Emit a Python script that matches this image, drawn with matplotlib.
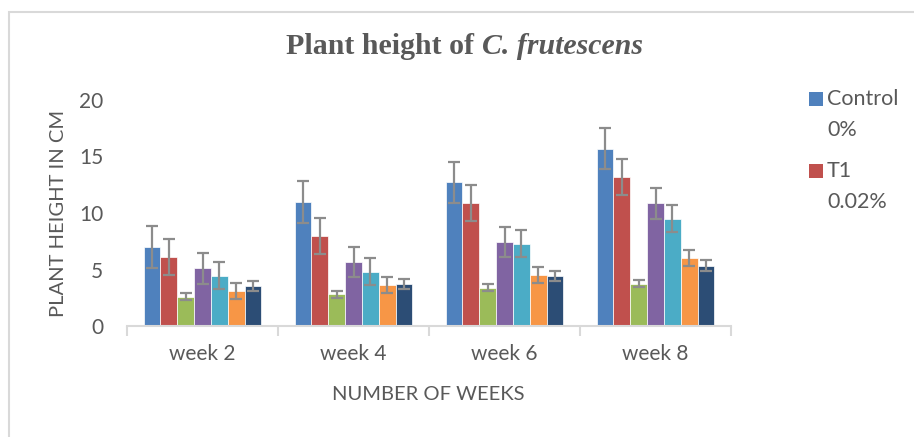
import matplotlib
matplotlib.use("Agg")
import matplotlib.pyplot as plt
from matplotlib.patches import Rectangle
import numpy as np

weeks = ["week 2", "week 4", "week 6", "week 8"]
series = ["Control\n0%", "T1\n0.02%", "T2", "T3", "T4", "T5", "T6"]
colors = ["#4F81BD", "#C0504D", "#9BBB59", "#8064A2", "#4BACC6", "#F79646", "#2C4D75"]

heights = [
    [7.0, 11.0, 12.7, 15.7],   # Control 0%
    [6.1, 8.0, 10.9, 13.2],    # T1 0.02%
    [2.6, 2.8, 3.4, 3.75],
    [5.1, 5.65, 7.45, 10.85],
    [4.45, 4.8, 7.3, 9.5],
    [3.1, 3.6, 4.5, 6.0],
    [3.55, 3.7, 4.4, 5.35],
]
errors = [1.85, 1.6, 0.3, 1.35, 1.2, 0.7, 0.45]

gray = "#595959"
W, H = 914, 437
fig = plt.figure(figsize=(W / 100, H / 100), dpi=100)
fig.patches.append(Rectangle((9 / W, -0.1), 1.2, 1 - 12 / H + 0.1, transform=fig.transFigure,
                             fill=False, edgecolor="#d9d9d9", linewidth=1.5))

ax = fig.add_axes([127 / W, 1 - 326 / H, (731 - 127) / W, (326 - 100) / H])
x = np.arange(len(weeks))
bw = 0.78 / len(series)
for i, (name, col) in enumerate(zip(series, colors)):
    pos = x - 0.39 + bw * (i + 0.5)
    ax.bar(pos, heights[i], bw, color=col, edgecolor="white", linewidth=0.5,
           yerr=errors[i], error_kw=dict(ecolor="#8c8c8c", elinewidth=1.6, capsize=4.5, capthick=1.6))

ax.set_xlim(-0.5, len(weeks) - 0.5)
ax.set_ylim(0, 20)
ax.set_yticks([0, 5, 10, 15, 20])
ax.set_xticks(x)
ax.set_xticklabels(weeks)
ax.set_xticks(np.arange(len(weeks) + 1) - 0.5, minor=True)
ax.tick_params(axis="x", which="major", length=0, pad=13, labelsize=15, labelcolor=gray, labelfontfamily="Lato")
ax.tick_params(axis="x", which="minor", length=7, width=1.5, color="#d9d9d9")
ax.tick_params(axis="y", length=0, pad=17, labelsize=15, labelcolor=gray, labelfontfamily="Lato")
for s in ["top", "right", "left"]:
    ax.spines[s].set_visible(False)
ax.spines["bottom"].set_color("#d9d9d9")
ax.spines["bottom"].set_linewidth(1.5)

ax.set_ylabel("PLANT HEIGHT IN CM", fontsize=14.5, color=gray, family="Lato", va="center")
ax.yaxis.set_label_coords((58 - 127) / 604, 0.5)
ax.set_xlabel("NUMBER OF WEEKS", fontsize=14.5, color=gray, family="Lato", va="center")
ax.xaxis.set_label_coords((428 - 127) / 604, (326 - 395) / 226)

tx = 482 / W
fig.text(tx, 1 - 47 / H, "Plant height of ", ha="right", va="center",
         fontsize=21.5, fontweight="bold", color=gray, family="Liberation Serif")
fig.text(tx, 1 - 47 / H, "C. frutescens", ha="left", va="center",
         fontsize=21.5, fontweight="bold", fontstyle="italic", color=gray, family="Liberation Serif")

# legend (only first two entries fit in the frame)
ly = [99, 171]
for name, col, yy in zip(series[:2], colors[:2], ly):
    fig.patches.append(Rectangle((809 / W, 1 - (yy + 7) / H), 14 / W, 14 / H,
                                 transform=fig.transFigure, facecolor=col, edgecolor="none"))
    for k, line in enumerate(name.split("\n")):
        fig.text(827 / W, 1 - (yy + 31 * k) / H, line, ha="left", va="center", fontsize=15.5,
                 color=gray, family="Lato")

fig.savefig("out.png", dpi=100)
